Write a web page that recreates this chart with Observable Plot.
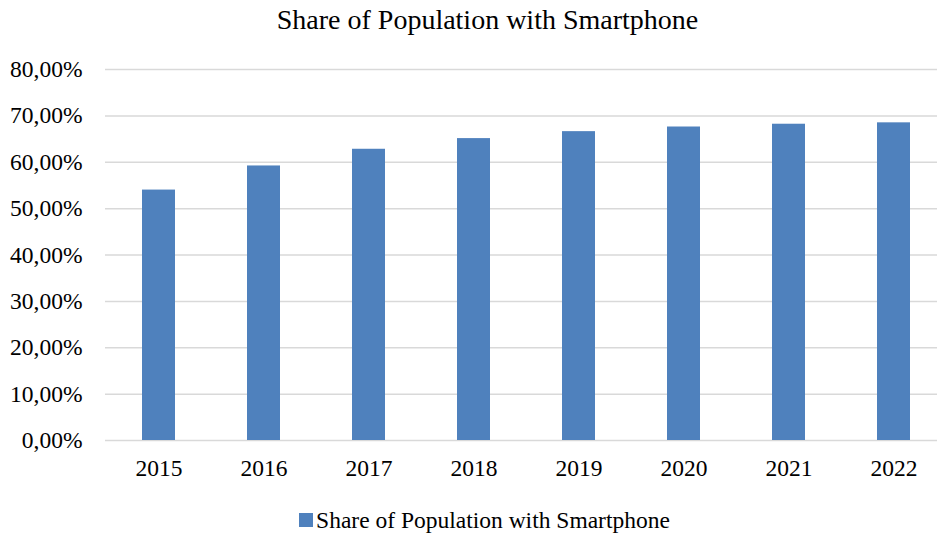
<!DOCTYPE html>
<html>
<head>
<meta charset="utf-8">
<script src="https://cdn.jsdelivr.net/npm/d3@7"></script>
<script src="https://cdn.jsdelivr.net/npm/@observablehq/plot@0.6"></script>
<style>
  html, body { margin: 0; padding: 0; background: #fff; }
  body { width: 937px; height: 536px; overflow: hidden; font-family: "Liberation Serif", "Times New Roman", serif; color: #000; }
  #title { height: 40px; line-height: 40px; text-align: center; font-size: 28px; padding-left: 38px; }
  #legend { height: 40px; display: flex; justify-content: center; align-items: center; font-size: 23.5px; padding-left: 32px; }
  #legend .sw { width: 14px; height: 14px; background: #4f81bd; margin-right: 3px; }
  svg { display: block; }
  svg text { font-family: "Liberation Serif", "Times New Roman", serif !important; }
</style>
</head>
<body>
<div id="title">Share of Population with Smartphone</div>
<div id="chart"></div>
<div id="legend"><span class="sw"></span><span>Share of Population with Smartphone</span></div>
<script>
const years = ["2015", "2016", "2017", "2018", "2019", "2020", "2021", "2022"];
const shares = [54.0, 59.2, 62.8, 65.1, 66.6, 67.6, 68.2, 68.5];
const yTicks = [0, 10, 20, 30, 40, 50, 60, 70, 80];

const data = years.map((y, i) => ({year: y, share: shares[i]}));
const fmt = d => d.toFixed(2).replace(".", ",") + "%";

const chart = Plot.plot({
  width: 937,
  height: 460,
  marginTop: 29,
  marginBottom: 60,
  marginLeft: 105,
  marginRight: 0,
  style: {fontFamily: '"Liberation Serif", "Times New Roman", serif', fontSize: "23.5px", color: "#000", background: "#fff"},
  x: {domain: years, range: [104.75, 947.7], paddingInner: 0.687, paddingOuter: 0.3435, label: null},
  y: {domain: [0, 80], label: null},
  marks: [
    Plot.gridY(yTicks, {stroke: "#d9d9d9", strokeOpacity: 1, strokeWidth: 1.5}),
    Plot.barY(data, {x: "year", y: "share", fill: "#4f81bd"}),
    Plot.axisY(yTicks, {tickSize: 0, tickPadding: 23, tickFormat: fmt, fontSize: 23.5, label: null}),
    Plot.axisX({tickSize: 0, tickPadding: 19, fontSize: 23.5, label: null})
  ]
});
document.getElementById("chart").appendChild(chart);
</script>
</body>
</html>
